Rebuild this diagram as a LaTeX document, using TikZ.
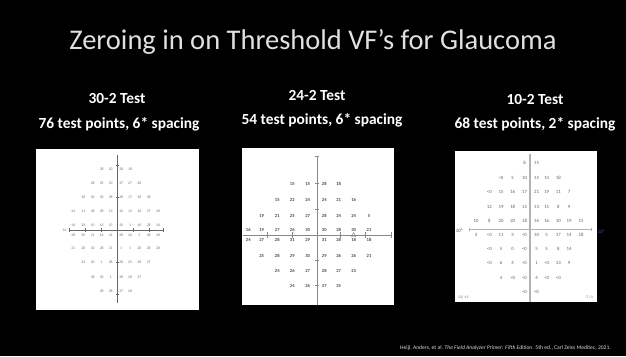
\documentclass[tikz,border=0pt]{standalone}
\usepackage{fontspec}
\setmainfont{Carlito}
\begin{document}
\begin{tikzpicture}[x=1pt,y=-1pt,
  titletext/.style={text=black!12,font=\fontsize{28.5}{32}\selectfont,anchor=base,inner sep=0pt},
  headtext/.style={text=white,font=\bfseries\fontsize{15.4}{18}\selectfont,anchor=base,inner sep=0pt},
  citetext/.style={text=black!15,font=\fontsize{5.6}{7}\selectfont,anchor=base east,inner sep=0pt},
  chartbg/.style={fill=white,draw=none},
  ptA/.style={font=\fontsize{3.8}{4}\selectfont,text=black!55,inner sep=0pt},
  ptB/.style={font=\bfseries\fontsize{4.6}{5}\selectfont,text=black!70,inner sep=0pt},
  ptC/.style={font=\fontsize{4.8}{5}\selectfont,text=black!62,inner sep=0pt},
  axisA/.style={draw=black!60,line width=0.5pt},
  axisB/.style={draw=brown!40!black!60,line width=0.6pt},
  axisC/.style={draw=black!30,line width=1.2pt},
  degtext/.style={font=\itshape\fontsize{5}{6}\selectfont,text=blue!55!black!70,inner sep=0pt},
  smalltext/.style={font=\fontsize{3.6}{4}\selectfont,text=black!55,inner sep=0pt}]

% slide background and page frame
\fill[black] (0,0) rectangle (626,356);
\useasboundingbox (0,0) rectangle (626,356);

% title and column headings
\node[titletext] (title) at (313,49) {Zeroing in on Threshold VF’s for Glaucoma};
\node[headtext] (h1a) at (117,103.5) {30-2 Test};
\node[headtext] (h1b) at (119,128) {76 test points, 6* spacing};
\node[headtext] (h2a) at (317,100.5) {24-2 Test};
\node[headtext] (h2b) at (322,124.5) {54 test points, 6* spacing};
\node[headtext] (h3a) at (535,104.5) {10-2 Test};
\node[headtext] (h3b) at (535,128.5) {68 test points, 2* spacing};

% ---------------- 30-2 chart ----------------
\fill[chartbg] (36,149) rectangle (199,310);
\coordinate (a-top) at (117.3,155);
\coordinate (a-bot) at (117.3,303);
\coordinate (a-left) at (69,229.8);
\coordinate (a-right) at (163,229.8);
\draw[axisA] (a-top) -- (a-bot);
\draw[axisA] (a-left) -- (a-right);
\foreach \t in {69,85.1,101.2,133.4,149.5,163}
  \draw[axisA] (\t,227.8) -- (\t,231.8);
\foreach \t in {165,197,262,294}
  \draw[axisA] (115.8,\t) -- (118.8,\t);
\node[smalltext] (a-deg) at (64.5,230) {30};
\def\colsA{73.3,83.3,92.7,101.7,110.7,121.2,130,139.3,148.7,158}
\foreach \r/\yy/\c/\vals in {
  1/169.3/4/{28,30,28,18},
  2/183.3/3/{28,25,30,27,27,28},
  3/197.3/2/{28,30,30,28,28,17,28,28},
  4/211/1/{24,21,28,28,13,10,13,16,27,28},
  5/225.3/1/{16,20,10,13,13,10,1,10,28,26},
  6/235.3/1/{28,30,21,16,21,28,20,1,28,28},
  7/248.7/1/{31,28,30,28,21,1,1,28,28,28},
  8/262.7/2/{32,30,1,28,28,25,28,27},
  9/277.3/3/{28,30,1,28,28,27},
  10/291.7/4/{28,28,27,28}}{
  \foreach \v [count=\k from \c] in \vals {
    \pgfmathsetmacro\xx{{\colsA}[\k-1]}
    \node[ptA] (a-\r-\k) at (\xx,\yy) {\v};
  }
}

% ---------------- 24-2 chart ----------------
\fill[chartbg] (242,148) rectangle (394,305);
\coordinate (b-top) at (317.3,156.7);
\coordinate (b-bot) at (317.3,305);
\coordinate (b-left) at (243,235);
\coordinate (b-right) at (391,235);
\draw[axisB] (b-top) -- (b-bot);
\draw[axisB] (b-left) -- (b-right);
\foreach \t in {267.3,292.7,340.3,365.7,391}
  \draw[axisB] (\t,232) -- (\t,238);
\foreach \t in {156.7,183.7,209.3,260.7,285.7}
  \draw[axisB] (315.3,\t) -- (319.3,\t);
\draw[black!55,line width=0.4pt] (351.5,236.5) -- (355.9,236.5) -- (353.7,232.5) -- cycle;
\def\colsB{248.3,261.7,277.3,292.3,307.7,324.3,338.7,353.7,369}
\foreach \r/\yy/\c/\vals in {
  1/183.7/4/{15,15,28,18},
  2/200/3/{15,22,24,24,21,16},
  3/215.7/2/{19,21,25,27,28,24,24,5},
  4/230/1/{16,19,27,26,30,30,28,30,21},
  5/240/1/{24,27,28,31,29,31,28,18,18},
  6/255.7/2/{25,28,29,30,29,26,26,21},
  7/271/3/{24,26,27,28,27,23},
  8/285.7/4/{24,26,27,25}}{
  \foreach \v [count=\k from \c] in \vals {
    \pgfmathsetmacro\xx{{\colsB}[\k-1]}
    \node[ptB] (b-\r-\k) at (\xx,\yy) {\v};
  }
}

% ---------------- 10-2 chart ----------------
\fill[chartbg] (455,151) rectangle (597,302);
\coordinate (c-top) at (530,154);
\coordinate (c-bot) at (530,302);
\coordinate (c-left) at (469,229);
\coordinate (c-right) at (591.7,229);
\draw[axisC] (c-top) -- (c-bot);
\draw[axisC,line width=0.6pt] (c-left) -- (c-right);
\draw[axisC,line width=0.5pt] (469,227.5) -- (469,230.5);
\draw[axisC,line width=0.5pt] (591.7,227.5) -- (591.7,230.5);
\node[degtext] (c-degL) at (459,230.5) {10°};
\node[degtext] (c-degR) at (601,231.5) {10°};
\node[smalltext] (c-noteL) at (463,297.5) {-22|-15};
\node[smalltext] (c-noteR) at (589,297.5) {-7| 0};
\def\colsC{476,489.3,501,512.7,524.5,536.5,546.7,558.3,569,581}
\foreach \r/\yy/\c/\vals in {
  1/163.3/5/{8,15},
  2/177.7/3/{<0,5,10,15,14,18},
  3/192.3/2/{<0,15,16,17,21,19,11,7},
  4/206.7/2/{12,19,18,15,13,15,8,9},
  5/221/1/{10,8,20,20,18,16,16,10,19,15},
  6/234.7/1/{3,<0,11,3,<0,10,5,17,14,18},
  7/249.3/2/{<0,5,0,<0,5,5,8,14},
  8/263.3/2/{<0,6,4,<0,1,<0,13,9},
  9/277.7/3/{4,<0,<0,4,<0,<0},
  10/291.7/5/{<0,<0}}{
  \foreach \v [count=\k from \c] in \vals {
    \pgfmathsetmacro\xx{{\colsC}[\k-1]}
    \node[ptC] (c-\r-\k) at (\xx,\yy) {\v};
  }
}

% reference line
\node[citetext] (cite) at (611,349) {Heijl, Anders, et al. \textit{The Field Analyzer Primer: Fifth Edition}. 5th ed., Carl Zeiss Meditec, 2021.};
\end{tikzpicture}
\end{document}
